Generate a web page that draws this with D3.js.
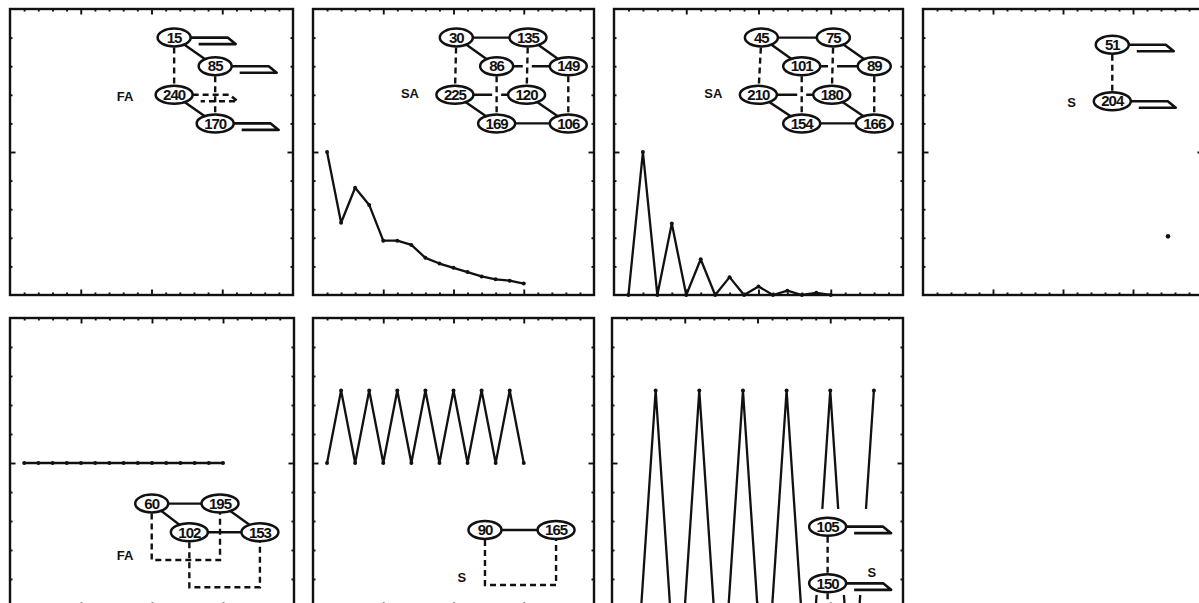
<!DOCTYPE html>
<html>
<head>
<meta charset="utf-8">
<script src="https://cdn.jsdelivr.net/npm/d3@7/dist/d3.min.js"></script>
<style>
  body { margin: 0; background: #fff; }
  svg text { font-family: "Liberation Sans", Arial, sans-serif; font-weight: bold; fill: #111; }
</style>
</head>
<body>
<div id="chart"></div>
<script>
// sample index (x axis runs 0..20 in every panel)
const idx15 = [1, 2, 3, 4, 5, 6, 7, 8, 9, 10, 11, 12, 13, 14, 15];
const idx18 = [1, 2, 3, 4, 5, 6, 7, 8, 9, 10, 11, 12, 13, 14, 15, 16, 17, 18];

// series values (y axis runs 0..2)
const decayVals  = [1.0, 0.505, 0.75, 0.63, 0.38, 0.38, 0.35, 0.26, 0.22, 0.19, 0.16, 0.13, 0.11, 0.10, 0.08];
const alternVals = [0, 1.0, 0, 0.5, 0, 0.25, 0, 0.125, 0, 0.06, 0, 0.03, 0, 0.015, 0];
const flatVals   = [1, 1, 1, 1, 1, 1, 1, 1, 1, 1, 1, 1, 1, 1, 1];
const zigVals    = [1, 1.5, 1, 1.5, 1, 1.5, 1, 1.5, 1, 1.5, 1, 1.5, 1, 1.5, 1];
const spikeVals  = [0, 0, 1.5, 0, 0, 1.5, 0, 0, 1.5, 0, 0, 1.5, 0, 0, 1.5, 0, 0, 1.5];
const singleIdx  = [17.5];
const singleVals = [0.41];

// inset diagrams: node labels and their place in axis units
const nodesP1 = [["15", 11.6, 1.8], ["85", 14.5, 1.6], ["240", 11.6, 1.4], ["170", 14.5, 1.2]];
const edgesP1 = [["15", "85", 0], ["240", "170", 0], ["15", "240", 1], ["85", "170", 1]];
const hooksP1 = [["15", 0], ["85", 0], ["240", 1], ["170", 0]];

const nodesP2 = [["30", 10.2, 1.8], ["135", 15.3, 1.8], ["86", 13.07, 1.6], ["149", 18.17, 1.6],
                 ["225", 10.1, 1.4], ["120", 15.2, 1.4], ["169", 13.07, 1.2], ["106", 18.17, 1.2]];
const edgesP2 = [["30", "135", 0], ["30", "86", 0], ["135", "149", 0], ["86", "149", 0],
                 ["225", "120", 0], ["225", "169", 0], ["120", "106", 0], ["169", "106", 0],
                 ["30", "225", 2], ["135", "120", 2], ["86", "169", 2], ["149", "106", 2]];

const nodesP3 = [["45", 10.2, 1.8], ["75", 15.18, 1.8], ["101", 12.99, 1.6], ["89", 18.01, 1.6],
                 ["210", 9.99, 1.4], ["180", 15.07, 1.4], ["154", 12.99, 1.2], ["166", 18.01, 1.2]];
const edgesP3 = [["45", "75", 0], ["45", "101", 0], ["75", "89", 0], ["101", "89", 0],
                 ["210", "180", 0], ["210", "154", 0], ["180", "166", 0], ["154", "166", 0],
                 ["45", "210", 2], ["75", "180", 2], ["101", "154", 2], ["89", "166", 2]];

const nodesP4 = [["51", 13.52, 1.75], ["204", 13.52, 1.355]];
const edgesP4 = [["51", "204", 1]];
const hooksP4 = [["51", 0], ["204", 0]];

const nodesP5 = [["60", 9.98, 0.72], ["195", 14.79, 0.72], ["102", 12.63, 0.522], ["153", 17.6, 0.522]];
const edgesP5 = [["60", "195", 0], ["60", "102", 0], ["195", "153", 0], ["102", "153", 0]];
const loopsP5 = [["60", "195", 0.331], ["102", "153", 0.143]];

const nodesP6 = [["90", 12.24, 0.538], ["165", 17.3, 0.538]];
const edgesP6 = [["90", "165", 0]];
const loopsP6 = [["90", "165", 0.159]];

const nodesP7 = [["105", 14.82, 0.561], ["150", 14.82, 0.17]];
const edgesP7 = [["105", "150", 1]];
const hooksP7 = [["105", 0], ["150", 0]];

const labels = ["FA", "SA", "SA", "S", "FA", "S", "S"];
const labelPos = [[8.13, 1.39], [6.9, 1.41], [6.87, 1.41], [10.62, 1.35], [8.1, 0.366], [10.59, 0.212], [17.85, 0.25]];

// panel frames on the page
const frames = [
  { x: 10, y: 9, w: 283, h: 286 },
  { x: 313, y: 9, w: 281, h: 286 },
  { x: 614, y: 9, w: 289, h: 286 },
  { x: 923, y: 9, w: 280, h: 286 },
  { x: 10, y: 318, w: 284, h: 290 },
  { x: 313, y: 318, w: 281, h: 290 },
  { x: 612, y: 318, w: 291, h: 290 }
];

const panels = [
  { series: null, nodes: nodesP1, edges: edgesP1, hooks: hooksP1 },
  { series: [idx15, decayVals], nodes: nodesP2, edges: edgesP2 },
  { series: [idx15, alternVals], nodes: nodesP3, edges: edgesP3 },
  { series: [singleIdx, singleVals], dotsOnly: true, nodes: nodesP4, edges: edgesP4, hooks: hooksP4 },
  { series: [idx15, flatVals], nodes: nodesP5, edges: edgesP5, loops: loopsP5 },
  { series: [idx15, zigVals], nodes: nodesP6, edges: edgesP6, loops: loopsP6 },
  { series: [idx18, spikeVals], nodes: nodesP7, edges: edgesP7, hooks: hooksP7,
    mask: [13.3, 19.5, 0.09, 0.683], tail: "150" }
];

const W = 1199, H = 603;
const svg = d3.select("#chart").append("svg").attr("width", W).attr("height", H);

const xMinor = [1, 2, 3, 4, 6, 7, 8, 9, 11, 12, 13, 14, 16, 17, 18, 19];
const xMajor = [5, 10, 15];
const yMinor = [0.2, 0.4, 0.6, 0.8, 1.2, 1.4, 1.6, 1.8];
const yMajor = [1];

panels.forEach((p, i) => {
  const f = frames[i];
  const x = d3.scaleLinear().domain([0, 20]).range([f.x, f.x + f.w]);
  const y = d3.scaleLinear().domain([0, 2]).range([f.y + f.h, f.y]);
  const g = svg.append("g");

  // inward ticks on all four sides
  const tickSets = [
    [d3.axisTop(x), `translate(0,${f.y})`, xMinor, xMajor],
    [d3.axisBottom(x), `translate(0,${f.y + f.h})`, xMinor, xMajor],
    [d3.axisLeft(y), `translate(${f.x},0)`, yMinor, yMajor],
    [d3.axisRight(y), `translate(${f.x + f.w},0)`, yMinor, yMajor]
  ];
  tickSets.forEach(([ax, tr, minor, major]) => {
    [[minor, 2.5], [major, 5.5]].forEach(([vals, len]) => {
      g.append("g").attr("transform", tr)
        .call(ax.tickValues(vals).tickSize(-len).tickSizeOuter(0).tickFormat(""))
        .call(a => a.select(".domain").remove())
        .selectAll("line").attr("stroke", "#111").attr("stroke-width", 1.9);
    });
  });

  g.append("rect")
    .attr("x", f.x).attr("y", f.y).attr("width", f.w).attr("height", f.h)
    .attr("fill", "none").attr("stroke", "#111").attr("stroke-width", 2.4);

  // data series
  if (p.series) {
    const pts = p.series[0].map((v, k) => [v, p.series[1][k]]);
    if (!p.dotsOnly) {
      g.append("path").datum(pts)
        .attr("d", d3.line().x(d => x(d[0])).y(d => y(d[1])))
        .attr("fill", "none").attr("stroke", "#111").attr("stroke-width", 2.3)
        .attr("stroke-linejoin", "round");
    }
    g.selectAll("circle.pt").data(pts).enter().append("circle")
      .attr("class", "pt")
      .attr("cx", d => x(d[0])).attr("cy", d => y(d[1]))
      .attr("r", p.dotsOnly ? 2.3 : 2).attr("fill", "#111");
  }

  // inset diagram
  const node = {};
  p.nodes.forEach(n => { node[n[0]] = { label: n[0], cx: x(n[1]), cy: y(n[2]) }; });
  const rx = l => (l.length > 2 ? 18.5 : 16.5), ry = 9;

  if (p.mask) {
    g.append("rect")
      .attr("x", x(p.mask[0])).attr("y", y(p.mask[3]))
      .attr("width", x(p.mask[1]) - x(p.mask[0])).attr("height", y(p.mask[2]) - y(p.mask[3]))
      .attr("fill", "#fff");
  }

  const ink = "#111";
  p.edges.forEach(e => {
    const a = node[e[0]], b = node[e[1]];
    if (e[2] === 2) {
      g.append("line").attr("x1", a.cx).attr("y1", a.cy).attr("x2", b.cx).attr("y2", b.cy)
        .attr("stroke", "#fff").attr("stroke-width", 9);
    }
    g.append("line").attr("x1", a.cx).attr("y1", a.cy).attr("x2", b.cx).attr("y2", b.cy)
      .attr("stroke", ink).attr("stroke-width", 2.4)
      .attr("stroke-dasharray", e[2] ? "6,4" : null);
  });

  (p.loops || []).forEach(l => {
    const a = node[l[0]], b = node[l[1]], yb = y(l[2]);
    g.append("path")
      .attr("d", `M${a.cx},${a.cy}V${yb}H${b.cx}V${b.cy}`)
      .attr("fill", "none").attr("stroke", ink).attr("stroke-width", 2.4)
      .attr("stroke-dasharray", "6,4");
  });

  if (p.tail) {
    const a = node[p.tail];
    g.append("line").attr("x1", a.cx).attr("y1", a.cy).attr("x2", a.cx).attr("y2", f.y + f.h)
      .attr("stroke", ink).attr("stroke-width", 2.4).attr("stroke-dasharray", "6,4");
  }

  (p.hooks || []).forEach(h => {
    const a = node[h[0]], x0 = a.cx + rx(h[0]), y0 = a.cy;
    g.append("path")
      .attr("d", `M${x0},${y0}H${x0 + 37}L${x0 + 45},${y0 + 6.5}H${x0 + 8}`)
      .attr("fill", "none").attr("stroke", ink).attr("stroke-width", 2.6)
      .attr("stroke-linejoin", "round")
      .attr("stroke-dasharray", h[1] ? "6,4" : null);
  });

  Object.values(node).forEach(n => {
    g.append("ellipse").attr("cx", n.cx).attr("cy", n.cy)
      .attr("rx", rx(n.label)).attr("ry", ry)
      .attr("fill", "#fff").attr("stroke", ink).attr("stroke-width", 2.5);
    g.append("text").attr("x", n.cx).attr("y", n.cy + 5.2)
      .attr("text-anchor", "middle").attr("font-size", 15).attr("letter-spacing", -1)
      .text(n.label);
  });

  g.append("text")
    .attr("x", x(labelPos[i][0])).attr("y", y(labelPos[i][1]) + 4.8)
    .attr("text-anchor", "middle").attr("font-size", 13)
    .text(labels[i]);
});
</script>
</body>
</html>
